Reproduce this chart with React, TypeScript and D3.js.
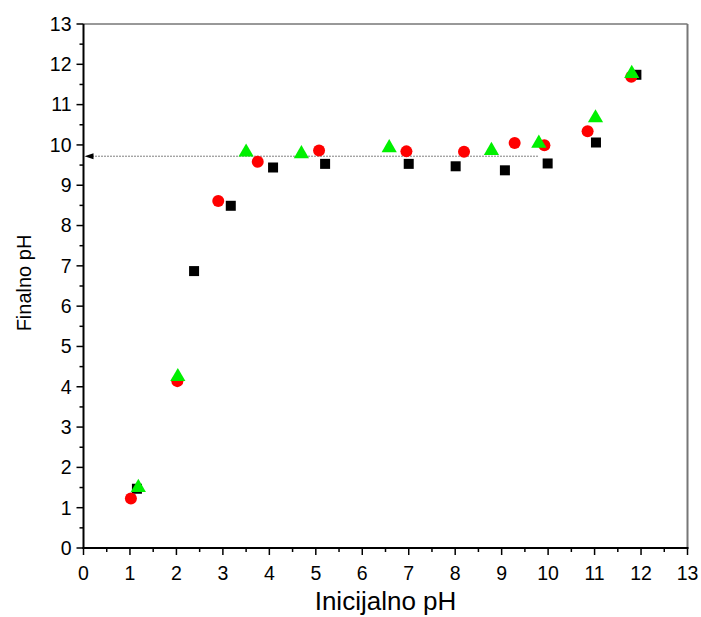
import React from "react";
import * as d3 from "d3";

const squareX = [1.15, 2.38, 3.17, 4.08, 5.2, 7.0, 8.01, 9.07, 9.99, 11.03, 11.9];
const squareY = [1.47, 6.87, 8.49, 9.44, 9.53, 9.53, 9.47, 9.37, 9.54, 10.06, 11.74];

const circleX = [1.02, 2.02, 2.9, 3.75, 5.07, 6.95, 8.19, 9.28, 9.92, 10.85, 11.79];
const circleY = [1.23, 4.14, 8.61, 9.58, 9.86, 9.84, 9.83, 10.05, 9.99, 10.34, 11.69];

const triX = [1.18, 2.03, 3.5, 4.69, 6.58, 8.78, 9.8, 11.02, 11.8];
const triY = [1.5, 4.25, 9.82, 9.78, 9.93, 9.86, 10.04, 10.67, 11.77];

const refLineY = 9.72;
const refLineEndX = 9.8;

const xTicks = d3.range(0, 14);
const yTicks = d3.range(0, 14);
const minorTicks = d3.range(0.5, 13, 1);

export default function App() {
  const W = 701, H = 617;
  const L = 83.5, R = 687.5, T = 24, B = 548;
  const x = d3.scaleLinear().domain([0, 13]).range([L, R]);
  const y = d3.scaleLinear().domain([0, 13]).range([B, T]);
  const font = "Liberation Sans, Arial, sans-serif";
  const sq = 10;
  const tri = d3.symbol().type(d3.symbolTriangle).size(100)() as string;

  return (
    <svg width={W} height={H} style={{ position: "absolute", left: 0, top: 0, background: "#fff" }} fontFamily={font}>
      {/* frame */}
      <line x1={L} x2={R} y1={T} y2={T} stroke="#333" strokeWidth={1} />
      <line x1={R} x2={R} y1={T} y2={B} stroke="#777" strokeWidth={2} />
      {/* reference line */}
      <line x1={x(0) + 9} x2={x(refLineEndX)} y1={y(refLineY)} y2={y(refLineY)} stroke="#000" strokeWidth={1} strokeDasharray="1,2" />
      <path d={`M${x(0) + 1},${y(refLineY)} L${x(0) + 10},${y(refLineY) - 3} L${x(0) + 10},${y(refLineY) + 3} Z`} fill="#000" />
      {/* axes */}
      <line x1={L} x2={L} y1={T} y2={B + 1} stroke="#000" strokeWidth={2} />
      <line x1={L - 1} x2={R + 1} y1={B} y2={B} stroke="#000" strokeWidth={2} />
      {yTicks.map((t) => (
        <g key={"y" + t}>
          <line x1={L - 7} x2={L} y1={y(t)} y2={y(t)} stroke="#000" strokeWidth={1.5} />
          <text x={L - 12} y={y(t)} dy="0.35em" textAnchor="end" fontSize={19.5}>{t}</text>
        </g>
      ))}
      {minorTicks.map((t) => (
        <line key={"ym" + t} x1={L - 4} x2={L} y1={y(t)} y2={y(t)} stroke="#000" strokeWidth={1.5} />
      ))}
      {xTicks.map((t) => (
        <g key={"x" + t}>
          <line x1={x(t)} x2={x(t)} y1={B} y2={B + 7} stroke="#000" strokeWidth={1.5} />
          <text x={x(t)} y={580} textAnchor="middle" fontSize={19.5}>{t}</text>
        </g>
      ))}
      {minorTicks.map((t) => (
        <line key={"xm" + t} x1={x(t)} x2={x(t)} y1={B} y2={B + 4} stroke="#000" strokeWidth={1.5} />
      ))}
      {/* titles */}
      <text x={(L + R) / 2} y={610} textAnchor="middle" fontSize={26}>Inicijalno pH</text>
      <text transform={`translate(31,${(T + B) / 2 - 3}) rotate(-90)`} textAnchor="middle" fontSize={20}>Finalno pH</text>
      {/* data */}
      {squareX.map((v, i) => (
        <rect key={"s" + i} x={x(v) - sq / 2} y={y(squareY[i]) - sq / 2} width={sq} height={sq} fill="#000" />
      ))}
      {circleX.map((v, i) => (
        <circle key={"c" + i} cx={x(v)} cy={y(circleY[i])} r={6} fill="#ff0000" />
      ))}
      {triX.map((v, i) => (
        <path key={"t" + i} d={tri} transform={`translate(${x(v)},${y(triY[i])})`} fill="#00f000" />
      ))}
    </svg>
  );
}
